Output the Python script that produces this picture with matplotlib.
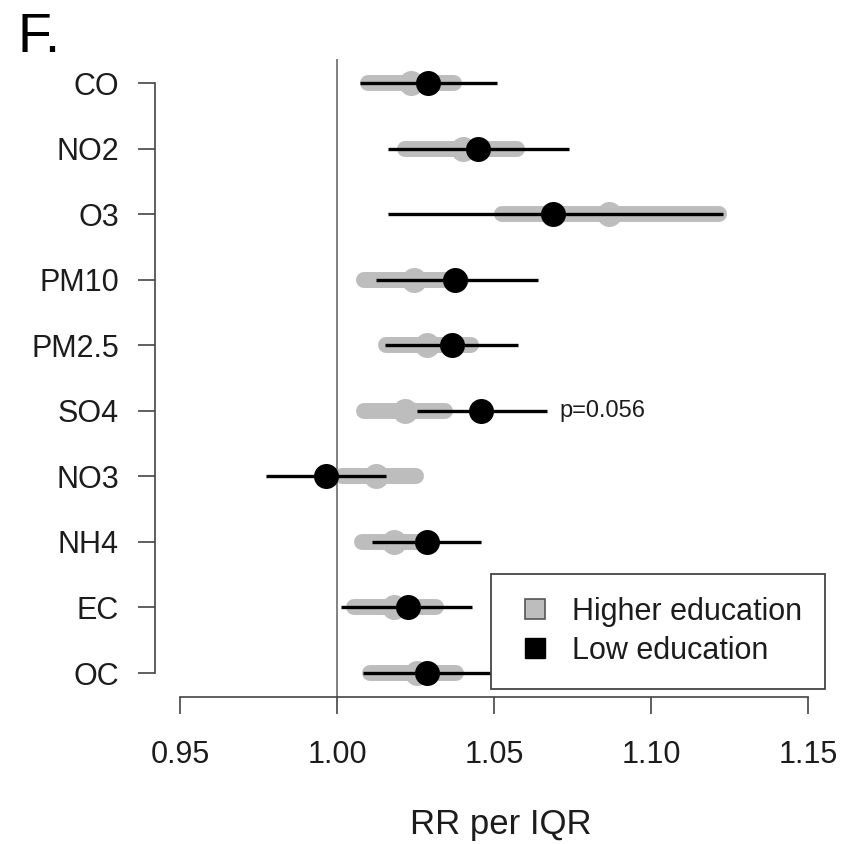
"""Forest plot: RR per IQR by pollutant, higher vs low education."""

import matplotlib

matplotlib.use("Agg")

import matplotlib.pyplot as plt
import numpy as np
from matplotlib.lines import Line2D

plt.rcParams["font.family"] = ["Liberation Sans", "DejaVu Sans"]

pollutants = ["CO", "NO2", "O3", "PM10", "PM2.5", "SO4", "NO3", "NH4", "EC", "OC"]

# Higher education (grey)
high_est = [1.0236, 1.0400, 1.0866, 1.0246, 1.0288, 1.0217, 1.0125, 1.0182, 1.0182, 1.0256]
high_lo = [1.0099, 1.0217, 1.0527, 1.0086, 1.0157, 1.0086, 1.0015, 1.0080, 1.0054, 1.0105]
high_hi = [1.0374, 1.0572, 1.1217, 1.0396, 1.0428, 1.0345, 1.0252, 1.0260, 1.0316, 1.0380]

# Low education (black)
low_est = [1.0290, 1.0450, 1.0687, 1.0377, 1.0367, 1.0457, 0.9965, 1.0288, 1.0227, 1.0288]
low_lo = [1.0073, 1.0163, 1.0163, 1.0125, 1.0153, 1.0256, 0.9773, 1.0112, 1.0013, 1.0083]
low_hi = [1.0510, 1.0738, 1.1230, 1.0639, 1.0578, 1.0668, 1.0157, 1.0460, 1.0431, 1.0550]

annot_row = "SO4"
annot_text = "p=0.056"

xticks = [0.95, 1.00, 1.05, 1.10, 1.15]

GREY = "#bdbdbd"
TXT = "#1c1c1c"
AX = "#444444"

fig = plt.figure(figsize=(8.41, 8.44), dpi=100)
ax = fig.add_axes([0.1843, 0.1746, 0.9905 - 0.1843, 0.9296 - 0.1746])

n = len(pollutants)
ypos = np.arange(n)[::-1]

ax.axvline(1.0, color="#777777", linewidth=1.3, zorder=1)

for y, lo, hi, est in zip(ypos, high_lo, high_hi, high_est):
    ax.plot([lo, hi], [y, y], color=GREY, linewidth=11.5, solid_capstyle="round", zorder=2)
    ax.plot(est, y, "o", color=GREY, markersize=18, markeredgewidth=0, zorder=3)

for y, lo, hi, est in zip(ypos, low_lo, low_hi, low_est):
    ax.plot([lo, hi], [y, y], color="black", linewidth=2.4, solid_capstyle="butt", zorder=4)
    ax.plot(est, y, "o", color="black", markersize=18, markeredgewidth=0, zorder=5)

i = pollutants.index(annot_row)
ax.text(low_hi[i] + 0.004, ypos[i], annot_text, fontsize=17, color=TXT, va="center", ha="left")

ax.set_xlim(0.942, 1.158)
ax.set_ylim(-0.36, n - 1 + 0.36)
ax.set_xticks(xticks)
ax.set_xticklabels([f"{v:.2f}" for v in xticks])
ax.set_yticks(ypos)
ax.set_yticklabels(pollutants)

for s in ["top", "right"]:
    ax.spines[s].set_visible(False)
ax.spines["left"].set_bounds(0, n - 1)
ax.spines["bottom"].set_bounds(xticks[0], xticks[-1])
for s in ["left", "bottom"]:
    ax.spines[s].set_color(AX)
    ax.spines[s].set_linewidth(1.2)

ax.tick_params(axis="both", length=12, width=1.2, color=AX, labelsize=22, labelcolor=TXT)
ax.tick_params(axis="y", pad=14)
ax.tick_params(axis="x", pad=19)

ax.set_xlabel("RR per IQR", fontsize=25, color=TXT, labelpad=28)
ax.xaxis.set_label_coords(0.51, -0.175)

fig.text(17 / 841, 1 - 52 / 844, "F.", fontsize=40, color="black", ha="left", va="baseline")

handles = [
    Line2D([], [], marker="s", linestyle="none", markersize=15, markerfacecolor=GREY,
           markeredgecolor="#555555", markeredgewidth=1.2),
    Line2D([], [], marker="s", linestyle="none", markersize=15, markerfacecolor="black",
           markeredgecolor="black"),
]
leg = ax.legend(handles, ["Higher education", "Low education"], loc="lower right",
                bbox_to_anchor=(0.988, 0.012), borderaxespad=0, fontsize=22,
                frameon=True, fancybox=False, framealpha=1, borderpad=0.75,
                handlelength=1.4, handletextpad=0.5, labelspacing=0.3, labelcolor=TXT)
leg.get_frame().set_edgecolor(AX)
leg.get_frame().set_linewidth(1.3)
leg.set_zorder(10)

fig.savefig("out.png", dpi=100)
